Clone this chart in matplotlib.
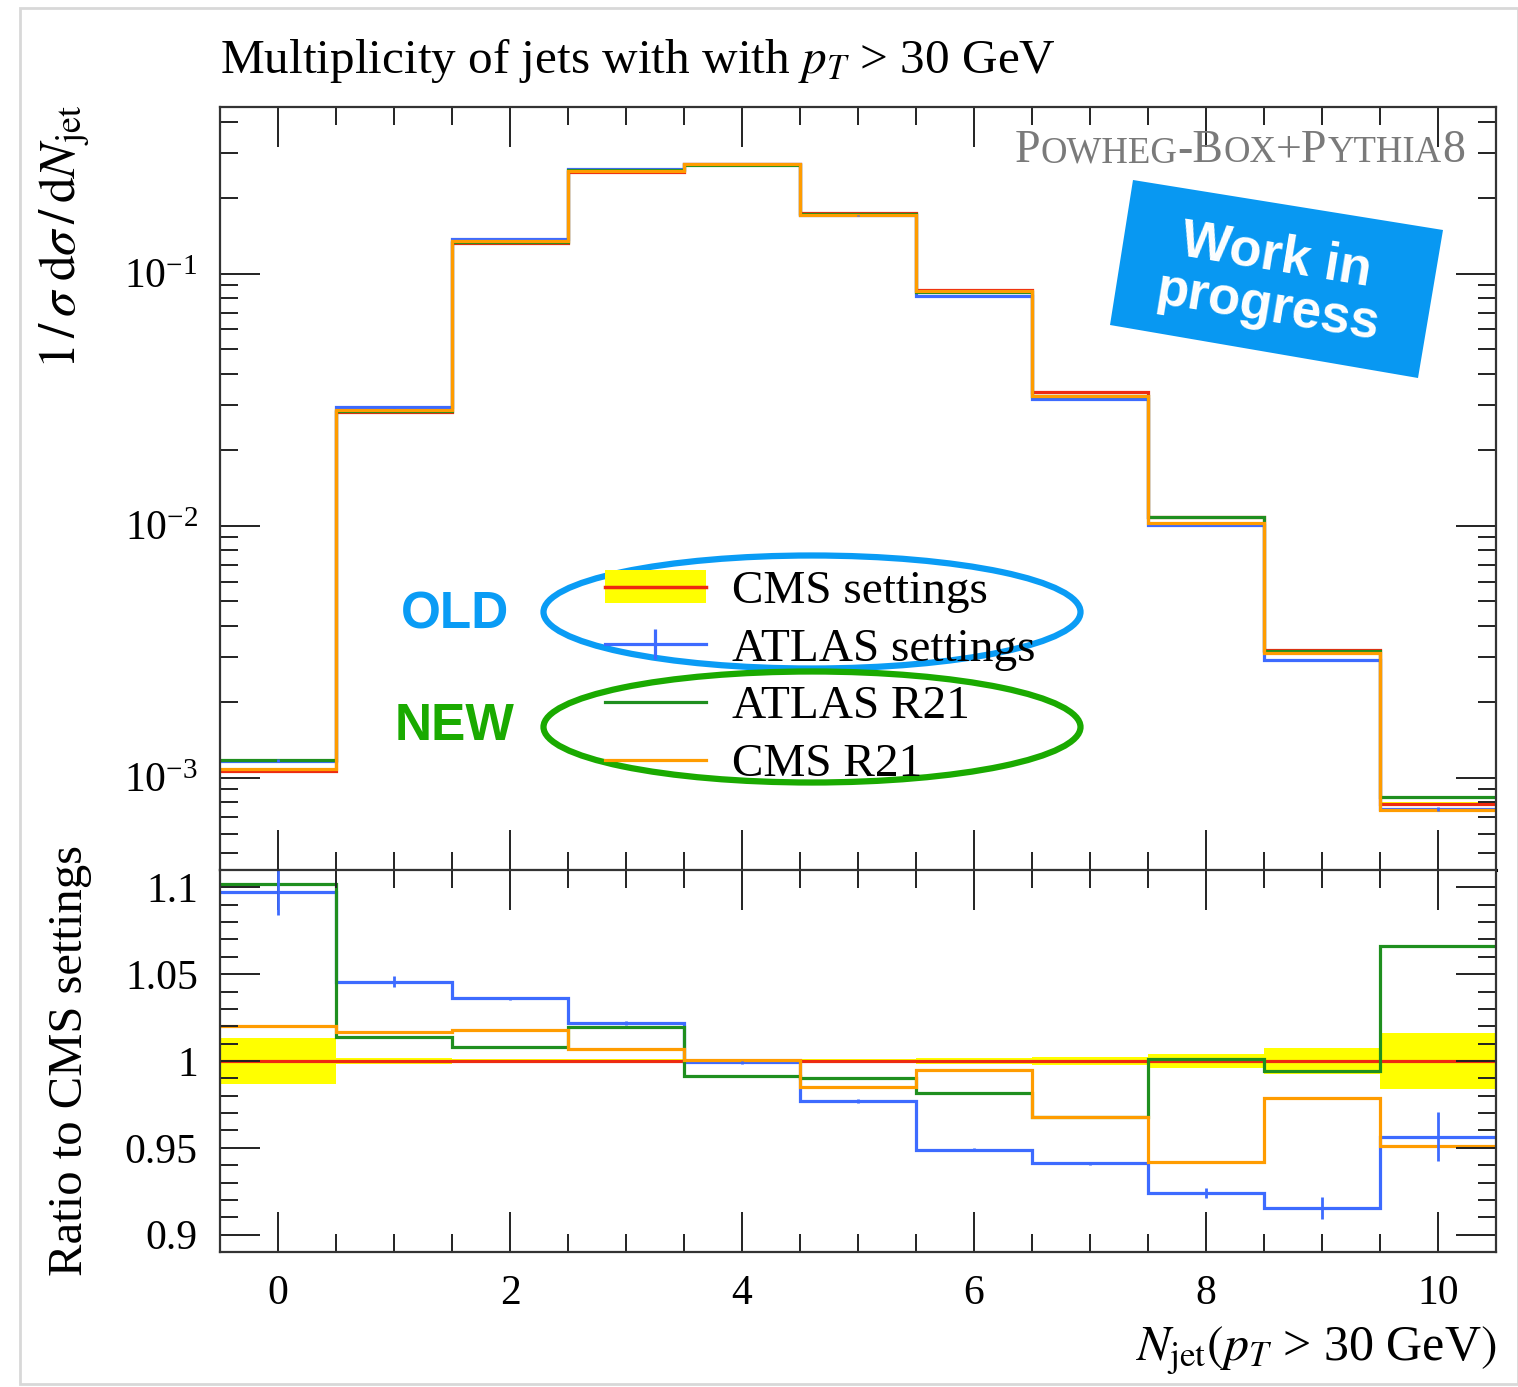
import numpy as np
import matplotlib.pyplot as plt
from matplotlib.patches import Ellipse, Polygon, Patch, Rectangle
from matplotlib.lines import Line2D
from matplotlib.ticker import MultipleLocator, LogLocator, NullFormatter, LogFormatterMathtext, FuncFormatter

plt.rcParams['font.family'] = ['Liberation Serif', 'DejaVu Serif']
plt.rcParams['mathtext.fontset'] = 'stix'

# -----------------------
# Data
# -----------------------
edges = np.arange(-0.5, 11.0, 1.0)          # N_jet bins 0..10
xticks = [0, 2, 4, 6, 8, 10]

# 1/sigma dsigma/dN_jet for CMS settings (reference curve)
cms_settings = [1.064e-3, 0.0282, 0.1321, 0.2535, 0.272, 0.174,
                0.086, 0.0339, 0.01084, 3.2e-3, 7.85e-4]
cms_err_rel = [0.0133, 0.002, 0.001, 0.001, 0.001, 0.001,
               0.0015, 0.0025, 0.004, 0.0077, 0.016]

# ratios to CMS settings
ratio_atlas_settings = [1.0975, 1.0456, 1.036, 1.0219, 0.9992, 0.977,
                        0.949, 0.941, 0.9238, 0.9154, 0.9565]
atlas_err_rel = [0.012, 0.003, 0.001, 0.001, 0.001, 0.001,
                 0.001, 0.001, 0.003, 0.007, 0.015]
ratio_atlas_r21 = [1.102, 1.0138, 1.0081, 1.0196, 0.9915, 0.990,
                   0.9815, 0.9677, 1.0013, 0.9942, 1.0665]
ratio_cms_r21 = [1.0204, 1.0167, 1.0177, 1.0067, 1.0008, 0.985,
                 0.995, 0.9677, 0.942, 0.9787, 0.951]

red, blue, green, orange = '#ee2a10', '#3d6bff', '#1f8f1f', '#ff9c00'
mark_blue, mark_green = '#0a9cf5', '#1aaa00'

cms = np.array(cms_settings)
cms_err = np.array(cms_err_rel)
series = [
    ("ATLAS settings", np.array(ratio_atlas_settings), blue),
    ("ATLAS R21", np.array(ratio_atlas_r21), green),
    ("CMS R21", np.array(ratio_cms_r21), orange),
]
centers = 0.5 * (edges[:-1] + edges[1:])

# -----------------------
# Figure layout (pixel based)
# -----------------------
W, H = 1518, 1387
fig = plt.figure(figsize=(W / 100, H / 100), dpi=100)
fx = lambda px: px / W
fy = lambda py: 1 - py / H

ax = fig.add_axes([fx(220), fy(870), (1496 - 220) / W, (870 - 107) / H])
rax = fig.add_axes([fx(220), fy(1252), (1496 - 220) / W, (1252 - 870) / H], sharex=ax)

# ---- main panel
ax.stairs(cms * (1 + cms_err), edges, baseline=cms * (1 - cms_err),
          fill=True, color='yellow', lw=0)
ax.stairs(cms, edges, baseline=None, color=red, lw=2.3)
for name, r, c in series:
    ax.stairs(cms * r, edges, baseline=None, color=c, lw=2.3)
    if name == "ATLAS settings":
        ax.errorbar(centers, cms * r, yerr=cms * r * np.array(atlas_err_rel),
                    fmt='none', ecolor=c, elinewidth=2)

ax.set_yscale('log')
ax.set_xlim(-0.5, 10.5)
ax.set_ylim(4.3e-4, 0.458)
ax.yaxis.set_major_locator(LogLocator(base=10))
ax.yaxis.set_minor_locator(LogLocator(base=10, subs=np.arange(2, 10)))
ax.yaxis.set_minor_formatter(NullFormatter())
ax.yaxis.set_major_formatter(LogFormatterMathtext())

# ---- ratio panel
rax.stairs(1 + cms_err, edges, baseline=1 - cms_err, fill=True, color='yellow', lw=0)
rax.stairs(np.ones_like(cms), edges, baseline=None, color=red, lw=2.3)
for name, r, c in series:
    rax.stairs(r, edges, baseline=None, color=c, lw=2.3)
    if name == "ATLAS settings":
        rax.errorbar(centers, r, yerr=r * np.array(atlas_err_rel),
                     fmt='none', ecolor=c, elinewidth=2)
rax.set_ylim(0.89, 1.11)
rax.yaxis.set_major_locator(MultipleLocator(0.05))
rax.yaxis.set_minor_locator(MultipleLocator(0.01))
rax.yaxis.set_major_formatter(FuncFormatter(lambda v, p: f"{v:g}"))
rax.set_xticks(xticks)
rax.xaxis.set_minor_locator(MultipleLocator(0.5))

for a in (ax, rax):
    a.tick_params(which='major', direction='in', length=29, width=1.4,
                  top=True, right=True, labelsize=30, pad=16, color='#222222')
    a.tick_params(which='minor', direction='in', length=13, width=1.4,
                  top=True, right=True, color='#222222')
    for s in a.spines.values():
        s.set_linewidth(1.6)
        s.set_color('#333333')
ax.tick_params(labelbottom=False)
ax.spines['bottom'].set_color('black')
ax.spines['bottom'].set_linewidth(2.2)

# ---- labels
fig.text(fx(220), fy(73), r"Multiplicity of jets with with $p_T$ > 30 GeV",
         fontsize=35.5, ha='left', va='baseline')
fig.text(fx(65), fy(105),
         r"$1\,/\,\sigma\;\mathrm{d}\sigma\,/\,\mathrm{d}N_{\mathrm{jet}}$",
         fontsize=37, rotation=90, ha='center', va='top')
fig.text(fx(70), fy(1061), "Ratio to CMS settings", fontsize=35,
         rotation=90, ha='center', va='center')
fig.text(fx(1496), fy(1360), r"$N_{\mathrm{jet}}(p_T$ > 30 GeV$)$", fontsize=36,
         ha='right', va='baseline')

# ---- generator label in small caps
pieces = [("P", 33), ("OWHEG", 26.5), ("-B", 33), ("OX", 26.5), ("+P", 33),
          ("YTHIA", 26.5), ("8", 33)]
t = ax.text((1015 - 220) / 1276, (870 - 162) / 763, pieces[0][0],
            transform=ax.transAxes, fontsize=pieces[0][1], color='#7a7a7a',
            ha='left', va='baseline')
prev = pieces[0][1]
for s, fs in pieces[1:]:
    t = ax.annotate(s, xy=(1, 0), xycoords=t, xytext=(0, 0.22 * (prev - fs)),
                    textcoords='offset points', fontsize=fs, color='#7a7a7a',
                    ha='left', va='bottom')
    prev = fs

# ---- legend
handles = [
    (Patch(fc='yellow', ec='none'), Line2D([], [], color=red, lw=2.5)),
    Line2D([], [], color=blue, lw=2.3, marker='|', markersize=22, markeredgewidth=2.3),
    Line2D([], [], color=green, lw=2.3),
    Line2D([], [], color=orange, lw=2.3),
]
labels = ["CMS settings", "ATLAS settings", "ATLAS R21", "CMS R21"]
fig.legend(handles, labels, loc='upper left', bbox_to_anchor=(fx(605), fy(570)),
           bbox_transform=fig.transFigure, frameon=False, fontsize=34,
           borderpad=0, borderaxespad=0, handlelength=2.13, handletextpad=0.55,
           labelspacing=0.31, numpoints=1)

# ---- slide annotations
fig.add_artist(Ellipse((fx(812), fy(612)), 537 / W, 113 / H, transform=fig.transFigure,
                       fill=False, ec=mark_blue, lw=4.5, zorder=5))
fig.add_artist(Ellipse((fx(812), fy(727)), 537 / W, 111 / H, transform=fig.transFigure,
                       fill=False, ec=mark_green, lw=4.5, zorder=5))
fig.text(fx(455), fy(615), "OLD", fontsize=37, family='Liberation Sans',
         weight='bold', color=mark_blue, ha='center', va='center')
fig.text(fx(455), fy(727), "NEW", fontsize=37, family='Liberation Sans',
         weight='bold', color=mark_green, ha='center', va='center')

corners = [(1133, 180), (1443, 230), (1418, 378), (1110, 325)]
fig.add_artist(Polygon([(fx(x), fy(y)) for x, y in corners], closed=True,
                       transform=fig.transFigure, fc='#0898f2', ec='none', zorder=5))
fig.text(fx(1272), fy(282), "Work in\nprogress", fontsize=38, family='Liberation Sans',
         weight='bold', color='white', ha='center', va='center', rotation=-9.3,
         linespacing=1.05, zorder=6)

# faint slide frame
fig.add_artist(Rectangle((fx(20), fy(1384)), (W - 20) / W, (1384 - 8) / H,
                         transform=fig.transFigure, fill=False, ec='#d8d8d8', lw=2))

fig.savefig("out.png", dpi=100)
